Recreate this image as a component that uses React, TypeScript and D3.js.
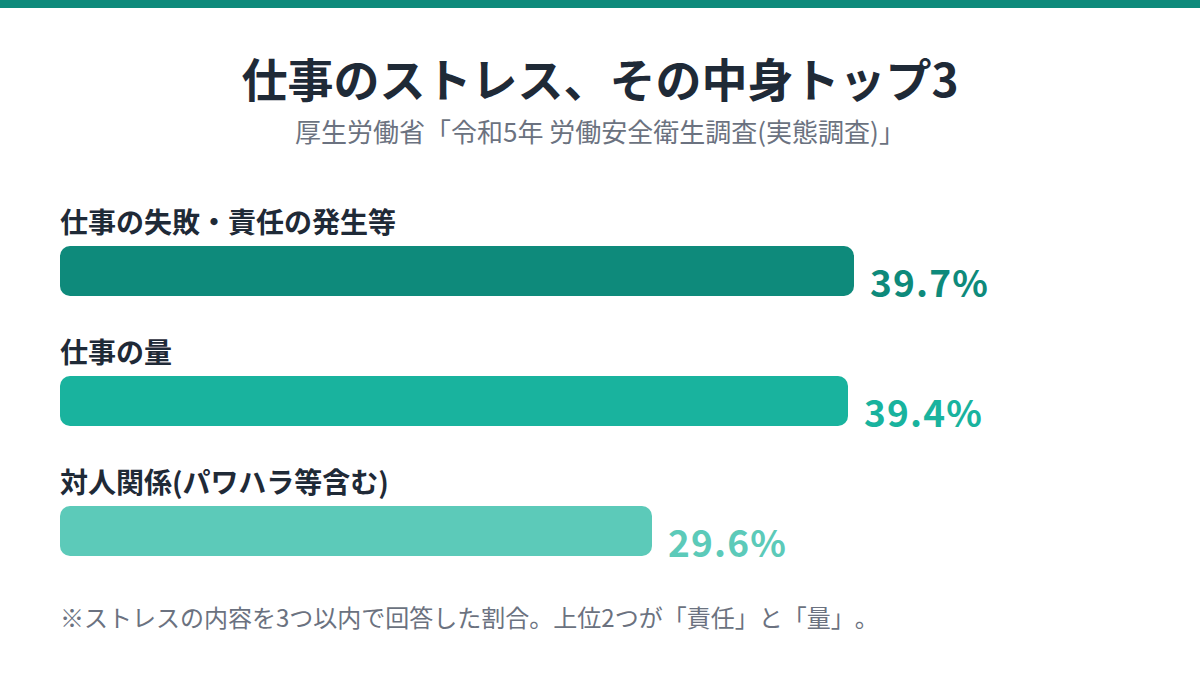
import { useEffect } from 'react';
import * as d3 from 'd3';

const categories = ['仕事の失敗・責任の発生等', '仕事の量', '対人関係(パワハラ等含む)'];
const values = [39.7, 39.4, 29.6];
const barColors = ['#0e8a7b', '#19b39e', '#5ccab9'];

const title = '仕事のストレス、その中身トップ3';
const subtitle = '厚生労働省「令和5年 労働安全衛生調査(実態調査)」';
const footnote = '※ストレスの内容を3つ以内で回答した割合。上位2つが「責任」と「量」。';

const W = 1200;
const H = 680;
const FONT = '"Noto Sans CJK JP", "Noto Sans", sans-serif';

export default function App() {
  useEffect(() => {
    document.body.style.margin = '0';
  }, []);

  const x = d3.scaleLinear().domain([0, 50]).range([0, 1000]);
  const y = d3.scalePoint<string>().domain(categories).range([246, 506]);
  const left = 60;
  const barH = 50;

  return (
    <svg
      width={W}
      height={H}
      style={{ display: 'block', fontFamily: FONT, textSpacingTrim: 'space-all' } as any}
    >
      <rect x={0} y={0} width={W} height={H} fill="#ffffff" />
      <rect x={0} y={0} width={W} height={8} fill="#0e8a7b" />

      <text x={W / 2} y={97} textAnchor="middle" fontSize={46} fontWeight={700} fill="#1f2a37">
        {title}
      </text>
      <text x={W / 2} y={142} textAnchor="middle" fontSize={26} fill="#6b7280">
        {subtitle}
      </text>

      {categories.map((c, i) => {
        const top = y(c) as number;
        const w = x(values[i]);
        return (
          <g key={c}>
            <text x={left} y={top - 13} fontSize={28} fontWeight={700} fill="#1f2a37">
              {c}
            </text>
            <rect x={left} y={top} width={w} height={barH} rx={10} fill={barColors[i]} />
            <text
              x={left + w + 16}
              y={top + barH + 1}
              fontSize={37}
              fontWeight={700}
              letterSpacing={1.2}
              fill={barColors[i]}
            >
              {values[i].toFixed(1)}%
            </text>
          </g>
        );
      })}

      <text x={60} y={627} fontSize={24} fill="#6b7280">
        {footnote}
      </text>
    </svg>
  );
}
